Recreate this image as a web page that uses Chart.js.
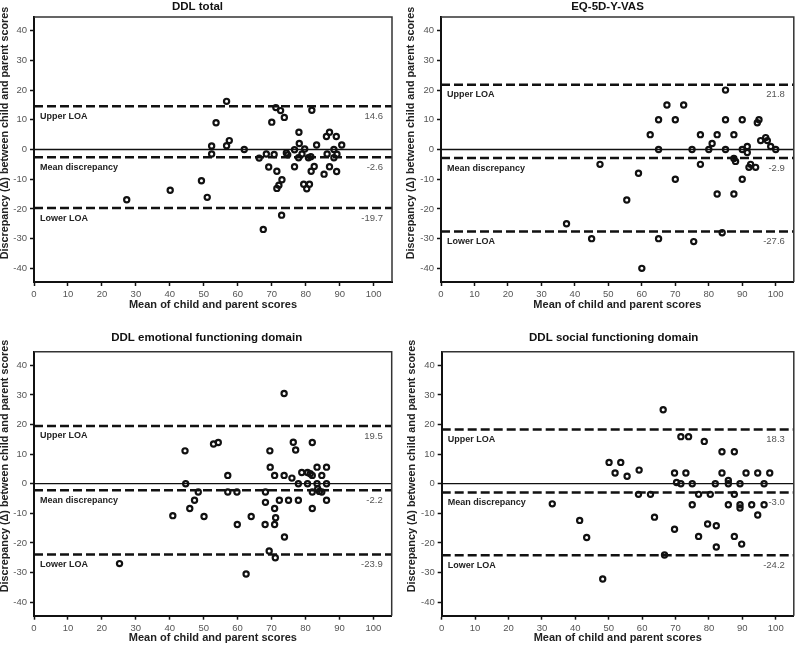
<!DOCTYPE html>
<html>
<head>
<meta charset="utf-8">
<script src="https://cdn.jsdelivr.net/npm/chart.js@4.4.1/dist/chart.umd.min.js"></script>
<style>
  html, body { margin: 0; padding: 0; background: #fff; }
  #wrap { position: relative; width: 800px; height: 645px; }
  canvas { position: absolute; }
</style>
</head>
<body>
<div id="wrap">
  <canvas id="c0" width="400" height="320" style="left:0;top:0"></canvas>
  <canvas id="c1" width="400" height="320" style="left:400px;top:0"></canvas>
  <canvas id="c2" width="400" height="325" style="left:0;top:320px"></canvas>
  <canvas id="c3" width="400" height="325" style="left:400px;top:320px"></canvas>
</div>
<script>
// ---- data ----
const xTicks = [0, 10, 20, 30, 40, 50, 60, 70, 80, 90, 100];
const yTicks = [-40, -30, -20, -10, 0, 10, 20, 30, 40];
const xTitle = 'Mean of child and parent scores';
const yTitle = 'Discrepancy (Δ) between child and parent scores';
const loaNames = ['Upper LOA', 'Mean discrepancy', 'Lower LOA'];
const panelTitles = ['DDL total', 'EQ-5D-Y-VAS', 'DDL emotional functioning domain', 'DDL social functioning domain'];

// DDL total
const totalMean = [27.3, 40.1, 49.3, 51.0, 52.3, 52.3, 53.6, 56.7, 56.7, 57.5, 61.9, 66.3, 67.5, 68.4, 69.1,
  70.0, 70.7, 71.2, 71.5, 71.5, 72.1, 72.6, 72.9, 73.0, 73.7, 74.3, 74.7, 76.7, 76.7, 77.9, 78.0, 78.1, 78.9,
  79.4, 79.7, 80.3, 80.8, 81.1, 81.5, 81.6, 81.8, 82.5, 83.2, 85.4, 86.1, 86.3, 87.0, 87.0, 88.3, 88.3, 89.0,
  89.1, 89.2, 90.6];
const totalDiff = [-16.9, -13.7, -10.5, -16.1, 1.2, -1.5, 9.0, 16.2, 1.3, 3.0, 0.0, -2.9, -26.9, -1.5, -5.9,
  9.2, -1.7, 14.1, -7.3, -13.1, -12.0, 13.1, -22.1, -10.2, 10.8, -1.2, -1.8, -5.8, -0.1, -2.8, 5.8, 2.0, -1.5,
  -11.7, 0.2, -13.2, -2.8, -11.7, -2.4, -7.3, 13.2, -5.7, 1.5, -8.3, 4.4, -1.5, 5.8, -5.8, 0.0, -2.8, 4.4,
  -7.4, -1.6, 1.5];
const totalLoa = [14.6, -2.6, -19.7];

// EQ-5D-Y-VAS
const vasMean = [37.5, 45.0, 47.5, 55.5, 59.0, 60.0, 62.5, 65.0, 65.0, 65.0, 67.5, 70.0, 70.0, 72.5, 75.0,
  75.5, 77.5, 77.5, 80.0, 81.0, 82.5, 82.5, 84.0, 85.0, 85.0, 85.0, 87.5, 87.5, 87.5, 88.0, 90.0, 90.0, 90.0,
  91.5, 91.5, 92.0, 92.5, 94.0, 94.5, 95.0, 95.5, 97.0, 97.5, 98.5, 100.0];
const vasDiff = [-25.0, -30.0, -5.0, -17.0, -8.0, -40.0, 5.0, 10.0, 0.0, -30.0, 15.0, 10.0, -10.0, 15.0, 0.0,
  -31.0, 5.0, -5.0, 0.0, 2.0, 5.0, -15.0, -28.0, 20.0, 10.0, 0.0, 5.0, -15.0, -3.0, -4.0, 10.0, 0.0, -10.0,
  1.0, -1.0, -6.0, -5.0, -6.0, 9.0, 10.0, 3.0, 4.0, 3.0, 1.0, 0.0];
const vasLoa = [21.8, -2.9, -27.6];

// DDL emotional functioning domain
const emoMean = [25.2, 40.9, 44.5, 44.7, 45.9, 47.3, 48.4, 50.1, 52.9, 54.3, 57.1, 57.1, 59.8, 59.9, 62.5,
  64.0, 68.1, 68.2, 68.2, 69.3, 69.5, 69.6, 70.9, 70.9, 70.9, 71.1, 71.2, 72.3, 73.7, 73.7, 73.8, 75.0, 76.0,
  76.4, 77.1, 77.9, 77.9, 78.9, 80.6, 80.6, 81.4, 82.0, 82.0, 82.0, 82.0, 83.4, 83.4, 83.6, 84.1, 84.8, 84.8,
  86.2, 86.2, 86.2];
const emoDiff = [-27.0, -10.8, 11.1, 0.0, -8.4, -5.6, -2.8, -11.1, 13.4, 13.9, 2.8, -2.8, -2.8, -13.8, -30.5,
  -11.1, -13.8, -2.8, -6.3, -22.7, 11.1, 5.6, 2.8, -8.4, -13.8, -25.0, -11.5, -5.6, 30.5, 2.8, -18.0, -5.6, 1.9,
  14.0, 11.4, 0.0, -5.6, 3.8, 3.8, 0.0, 3.4, 13.9, 2.8, -2.8, -8.4, 5.6, 0.0, -1.7, -2.6, 2.8, -2.8,
  5.6, 0.0, -5.6];
const emoLoa = [19.5, -2.2, -23.9];

// DDL social functioning domain
const socMean = [33.1, 41.3, 43.4, 48.2, 50.1, 51.9, 53.6, 55.5, 58.9, 59.1, 62.5, 63.7, 66.3, 66.7, 69.7,
  69.7, 70.3, 71.6, 71.6, 73.1, 73.9, 75.0, 75.0, 76.9, 76.9, 78.6, 79.6, 80.4, 81.9, 82.2, 82.2, 83.9, 83.9,
  85.8, 85.8, 85.8, 87.6, 87.6, 87.6, 89.3, 89.3, 89.3, 89.8, 91.1, 92.8, 94.6, 94.6, 96.5, 96.5, 98.2];
const socDiff = [-6.8, -12.4, -18.2, -32.2, 7.2, 3.6, 7.2, 2.5, -3.6, 4.6, -3.6, -11.3, 25.0, -24.1, 3.6,
  -15.4, 0.4, 15.9, 0.0, 3.6, 15.9, 0.0, -7.1, -3.6, -17.8, 14.3, -13.6, -3.6, 0.0, -14.2, -21.4, 10.8, 3.6,
  1.1, 0.0, -7.1, 10.8, -3.6, -17.8, 0.0, -7.1, -8.2, -20.4, 3.6, -7.1, 3.6, -10.6, 0.0, -7.1, 3.6];
const socLoa = [18.3, -3.0, -24.2];

const X_MAX = 105.4;
const Y_MIN = -44.6;
const Y_MAX = 44.6;

// ---- layout per panel ----
const panels = [
  { id: 'c0', title: panelTitles[0], xs: totalMean, ys: totalDiff, loa: totalLoa,
    pad: { left: 0, top: 17, right: 8, bottom: 8 }, yw: 34, xh: 30,
    titleX: 197.5, titleY: 6.5, ytX: 5.5, ytY: 133 },
  { id: 'c1', title: panelTitles[1], xs: vasMean, ys: vasDiff, loa: vasLoa,
    pad: { left: 5, top: 17, right: 2.3, bottom: 8 }, yw: 36, xh: 30,
    titleX: 207.5, titleY: 6.5, ytX: 11.5, ytY: 133 },
  { id: 'c2', title: panelTitles[2], xs: emoMean, ys: emoDiff, loa: emoLoa,
    pad: { left: 0, top: 31.7, right: 8.3, bottom: 0 }, yw: 34, xh: 29.3,
    titleX: 206.7, titleY: 18.3, ytX: 5.5, ytY: 146 },
  { id: 'c3', title: panelTitles[3], xs: socMean, ys: socDiff, loa: socLoa,
    pad: { left: 5.7, top: 31.7, right: 1, bottom: 0 }, yw: 36, xh: 29.3,
    titleX: 213.7, titleY: 18.3, ytX: 12, ytY: 146 }
];

const FONT = '"Liberation Sans", Arial, Helvetica, sans-serif';

function textPlugin(p) {
  return {
    id: 'panelText',
    afterDraw(chart) {
      const { ctx, chartArea: a, scales: { y } } = chart;
      ctx.save();
      // top and right frame
      ctx.strokeStyle = '#333';
      ctx.lineWidth = 1.5;
      ctx.beginPath();
      ctx.moveTo(a.left, a.top);
      ctx.lineTo(a.right, a.top);
      ctx.lineTo(a.right, a.bottom);
      ctx.stroke();

      // panel title
      ctx.fillStyle = '#111';
      ctx.textAlign = 'center';
      ctx.textBaseline = 'middle';
      ctx.font = 'bold 11.5px ' + FONT;
      ctx.fillText(p.title, p.titleX, p.titleY);

      // y axis title (drawn here so it can sit off-centre like the original)
      ctx.save();
      ctx.translate(p.ytX, p.ytY);
      ctx.rotate(-Math.PI / 2);
      ctx.font = 'bold 10.8px ' + FONT;
      ctx.fillStyle = '#222';
      ctx.fillText(yTitle, 0, 0);
      ctx.restore();

      // LOA captions
      p.loa.forEach((v, i) => {
        const py = y.getPixelForValue(v) + 10;
        ctx.font = 'bold 9px ' + FONT;
        ctx.textAlign = 'left';
        ctx.fillStyle = '#222';
        ctx.fillText(loaNames[i], a.left + 6, py);
        ctx.font = '9.5px ' + FONT;
        ctx.textAlign = 'right';
        ctx.fillStyle = '#555';
        ctx.fillText(v.toFixed(1), a.right - 9, py);
      });
      ctx.restore();
    }
  };
}

function makeChart(p) {
  const ctx = document.getElementById(p.id).getContext('2d');
  const lineSet = (v, dashed) => ({
    type: 'line',
    data: [{ x: 0, y: v }, { x: X_MAX, y: v }],
    borderColor: '#111',
    borderWidth: dashed ? 2.5 : 1.3,
    borderDash: dashed ? [9, 4] : [],
    pointRadius: 0,
    fill: false,
    order: 2
  });

  return new Chart(ctx, {
    type: 'scatter',
    data: {
      datasets: [
        {
          data: p.xs.map((x, i) => ({ x: x, y: p.ys[i] })),
          pointRadius: 2.6,
          pointBorderWidth: 2.2,
          pointBorderColor: '#111',
          pointBackgroundColor: 'rgba(0,0,0,0)',
          order: 0
        },
        lineSet(0, false),
        lineSet(p.loa[0], true),
        lineSet(p.loa[1], true),
        lineSet(p.loa[2], true)
      ]
    },
    options: {
      responsive: false,
      animation: false,
      devicePixelRatio: 1,
      layout: { padding: p.pad },
      plugins: {
        legend: { display: false },
        tooltip: { enabled: false },
        title: { display: false }
      },
      scales: {
        x: {
          type: 'linear',
          min: 0,
          max: X_MAX,
          afterBuildTicks: s => { s.ticks = xTicks.map(v => ({ value: v })); },
          afterFit: s => { s.height = p.xh; },
          grid: { drawOnChartArea: false, drawTicks: true, tickLength: 4, tickWidth: 1.5, tickColor: '#111' },
          border: { display: true, color: '#111', width: 2 },
          ticks: { color: '#555', padding: 3, maxRotation: 0, autoSkip: false, font: { family: FONT, size: 9.5 } },
          title: { display: true, text: xTitle, color: '#222', padding: 0, font: { family: FONT, size: 11, weight: 'bold' } }
        },
        y: {
          type: 'linear',
          min: Y_MIN,
          max: Y_MAX,
          afterBuildTicks: s => { s.ticks = yTicks.map(v => ({ value: v })); },
          afterFit: s => { s.width = p.yw; },
          grid: { drawOnChartArea: false, drawTicks: true, tickLength: 4, tickWidth: 1.5, tickColor: '#111' },
          border: { display: true, color: '#111', width: 2 },
          ticks: { color: '#555', padding: 3, autoSkip: false, font: { family: FONT, size: 9.5 } }
        }
      }
    },
    plugins: [textPlugin(p)]
  });
}

panels.forEach(makeChart);
</script>
</body>
</html>
